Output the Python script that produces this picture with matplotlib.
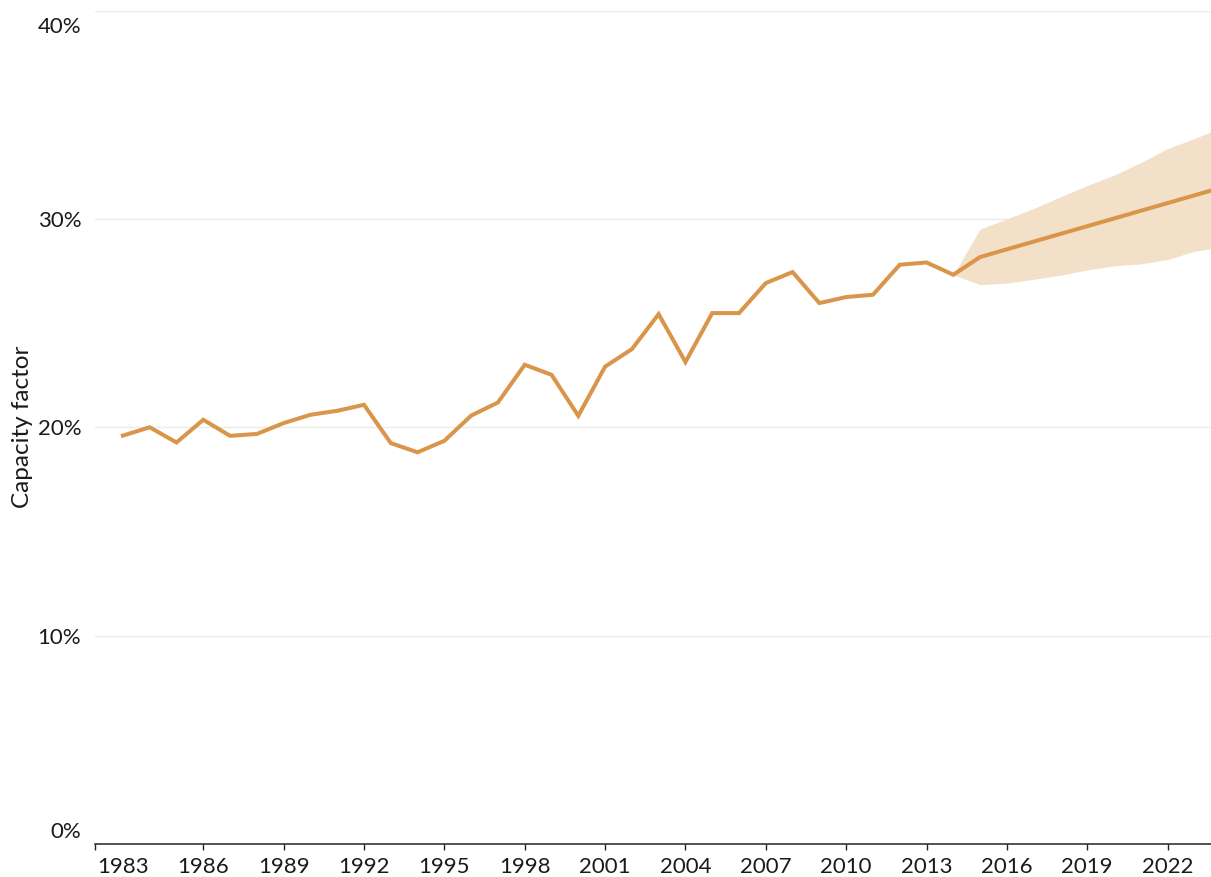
import numpy as np
import matplotlib
import matplotlib.pyplot as plt
import matplotlib.ticker
from matplotlib.transforms import ScaledTranslation

matplotlib.use('agg')
plt.rcParams['font.family'] = ['Lato', 'DejaVu Sans']

# Historical capacity factor (%), 1983-2014
hist_years = list(range(1983, 2015))
hist_values = [19.60, 20.00, 19.27, 20.36, 19.59, 19.68, 20.20, 20.60, 20.79, 21.08,
               19.24, 18.80, 19.35, 20.56, 21.19, 23.00, 22.52, 20.55, 22.91, 23.75,
               25.43, 23.13, 25.48, 25.48, 26.92, 27.45, 25.96, 26.25, 26.36, 27.80,
               27.91, 27.32]

# Projection with uncertainty range, starting from the last observed year
proj_years = list(range(2014, 2025))
proj_values = [27.32, 28.17, 28.54, 28.91, 29.28, 29.65, 30.02, 30.39, 30.76, 31.13, 31.50]
proj_low = [27.32, 26.84, 26.92, 27.10, 27.30, 27.55, 27.75, 27.84, 28.05, 28.45, 28.65]
proj_high = [27.32, 29.51, 30.00, 30.50, 31.06, 31.60, 32.10, 32.70, 33.38, 33.85, 34.40]

tick_years = list(range(1983, 2023, 3))
y_ticks = [0, 10, 20, 30, 40]

LINE_COLOR = '#D9954A'
BAND_COLOR = '#F3E0C8'
TEXT_COLOR = '#1a1a1a'

fig = plt.figure(figsize=(12.11, 8.77), dpi=100)
ax = fig.add_axes([0.0785, 0.0376, 0.9215, 0.9504])

ax.fill_between(proj_years, proj_low, proj_high, color=BAND_COLOR, linewidth=0, zorder=2)
ax.plot(hist_years + proj_years[1:], hist_values + proj_values[1:],
        color=LINE_COLOR, linewidth=2.9, solid_joinstyle='miter', zorder=3)

ax.set_xlim(1981.96, 2023.62)
ax.set_ylim(0, 40)

# Axes styling
for side in ('left', 'right', 'top'):
    ax.spines[side].set_visible(False)
ax.spines['bottom'].set_color('#222222')
ax.spines['bottom'].set_linewidth(1.1)
ax.spines['bottom'].set_zorder(4)

ax.set_yticks(y_ticks)
ax.yaxis.set_major_formatter(matplotlib.ticker.FuncFormatter(lambda v, p: f"{v:.0f}%"))
ax.grid(axis='y', color='#EBEBEB', linewidth=1.0, zorder=1)
ax.tick_params(axis='y', length=0, pad=10, labelsize=16, labelcolor=TEXT_COLOR)

ax.set_xticks(tick_years)
ax.set_xticks([1981.96], minor=True)
ax.tick_params(axis='x', which='both', length=4.5, width=1.0, color='#222222',
               pad=5, labelsize=16, labelcolor=TEXT_COLOR)
ax.xaxis.get_major_ticks()[0].tick1line.set_visible(False)

# Keep the end labels inside the plot area
labels = ax.get_yticklabels()
labels[0].set_transform(labels[0].get_transform() + ScaledTranslation(0, 0.14, fig.dpi_scale_trans))
labels[-1].set_transform(labels[-1].get_transform() + ScaledTranslation(0, -0.145, fig.dpi_scale_trans))

ax.set_ylabel('Capacity factor', fontsize=17.5, color=TEXT_COLOR)
ax.yaxis.set_label_coords(-0.0555, 0.5)

fig.savefig('out.png', dpi=100)
